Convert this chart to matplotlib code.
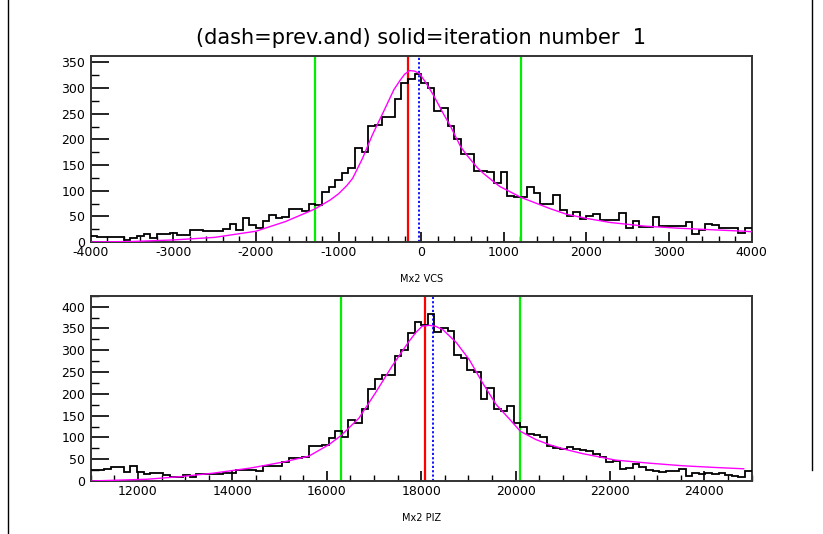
import numpy as np
import matplotlib
matplotlib.use("Agg")
import matplotlib.pyplot as plt
from matplotlib.lines import Line2D
from matplotlib.ticker import MultipleLocator

plt.rcParams['axes.unicode_minus'] = False
plt.rcParams['font.family'] = ['DejaVu Sans']

# ---- top histogram: Mx2 VCS, 100 bins from -4000 to 4000
vcs_lo, vcs_hi = -4000, 4000
vcs_counts = [12, 9, 10, 10, 10, 4, 7, 12, 16, 7,
              16, 16, 18, 13, 13, 23, 24, 22, 21, 22,
              26, 36, 24, 46, 34, 27, 41, 53, 46, 48,
              64, 64, 61, 75, 72, 97, 108, 121, 134, 144,
              183, 176, 226, 228, 244, 244, 278, 309, 317, 327,
              309, 300, 255, 262, 226, 200, 172, 172, 139, 139,
              136, 114, 136, 90, 88, 88, 108, 95, 75, 75,
              92, 62, 51, 59, 44, 51, 54, 42, 42, 43,
              57, 28, 41, 30, 30, 48, 32, 32, 32, 32,
              38, 15, 23, 36, 34, 28, 27, 27, 17, 28]
vcs_fit_x = [-4000, -3500, -3000, -2500, -2000, -1640, -1290, -1100, -1000, -900,
             -830, -710, -590, -450, -330, -260, -200, -140, -80, -20,
             50, 145, 275, 347, 476, 549, 678, 751, 880, 953,
             1207, 1560, 1760, 2000, 2290, 2700, 3100, 3500, 3910, 4000]
vcs_fit_y = [0, 1, 4, 9, 21, 40, 64, 82, 94, 110,
             124, 163, 209, 256, 297, 314, 327, 334, 333, 328,
             312, 287, 248, 228, 186, 170, 145, 134, 117, 108,
             87, 65, 54, 46, 38, 31, 27, 24, 21, 20]
vcs_green = [-1290, 1210]
vcs_red = -163
vcs_blue = -21

# ---- bottom histogram: Mx2 PIZ, 100 bins from 11000 to 25000
piz_lo, piz_hi = 11000, 25000
piz_counts = [26, 25, 28, 33, 33, 21, 34, 21, 16, 18,
              18, 14, 10, 10, 13, 9, 17, 15, 17, 16,
              18, 19, 25, 26, 25, 22, 34, 34, 34, 43,
              53, 53, 55, 80, 80, 83, 99, 114, 102, 139,
              133, 165, 211, 234, 244, 244, 287, 301, 339, 365,
              357, 383, 341, 352, 343, 290, 281, 255, 250, 188,
              213, 165, 161, 173, 133, 123, 108, 105, 101, 81,
              76, 74, 78, 74, 70, 69, 62, 54, 44, 46,
              27, 29, 39, 31, 25, 24, 20, 24, 22, 28,
              12, 18, 15, 19, 16, 18, 14, 11, 10, 22]
piz_fit_x = [11000, 12190, 12900, 13600, 14400, 15100, 15620, 16040, 16300, 16680,
             17030, 17380, 17740, 17890, 18020, 18170, 18300, 18460, 18740, 19020,
             19300, 19590, 19870, 20100, 20430, 20720, 21070, 21410, 22110, 22820,
             23530, 24230, 24830]
piz_fit_y = [0, 4, 10, 18, 30, 44, 57, 83, 104, 144,
             202, 263, 320, 341, 355, 357, 355, 347, 318, 278,
             225, 175, 142, 114, 95, 83, 72, 63, 48, 41,
             35, 31, 28]
piz_green = [16300, 20090]
piz_red = 18080
piz_blue = 18250

title_text = "(dash=prev.and) solid=iteration number  1"

W, H = 823, 534
fig = plt.figure(figsize=(W / 100, H / 100), dpi=100)


def panel(rect, lo, hi, counts, fx, fy, greens, red, blue, ymax, xmaj, xmin, label):
    ax = fig.add_axes(rect)
    edges = np.linspace(lo, hi, len(counts) + 1)
    ax.stairs(counts, edges, baseline=None, color='black', linewidth=1.3, zorder=3)
    ax.plot(fx, fy, color='#ff00ff', linewidth=1.0, zorder=4)
    for g in greens:
        ax.axvline(g, color='#00ee00', linewidth=1.6, zorder=2)
    ax.axvline(red, color='#ff0000', linewidth=1.6, zorder=2)
    ax.axvline(blue, color='#0000ff', linewidth=1.3, linestyle=(0, (1.2, 1.2)), zorder=2)
    ax.set_xlim(lo, hi)
    ax.set_ylim(0, ymax)
    ax.xaxis.set_major_locator(MultipleLocator(xmaj))
    ax.xaxis.set_minor_locator(MultipleLocator(xmin))
    ax.yaxis.set_major_locator(MultipleLocator(50))
    ax.yaxis.set_minor_locator(MultipleLocator(25))
    ax.tick_params(axis='x', which='major', direction='in', length=7, width=1.2,
                   labelsize=9, pad=3, top=False)
    ax.tick_params(axis='x', which='minor', direction='in', length=4, width=1.0, top=False)
    ax.tick_params(axis='y', which='major', direction='in', length=13, width=1.2,
                   labelsize=9, pad=4, right=False)
    ax.tick_params(axis='y', which='minor', direction='in', length=6, width=1.0, right=False)
    for s in ax.spines.values():
        s.set_linewidth(1.4)
        s.set_color('#333333')
    ax.set_xlabel(label, fontsize=7, labelpad=11)
    return ax


top = panel([90.7 / W, 1 - 242 / H, 661 / W, 186.3 / H],
            vcs_lo, vcs_hi, vcs_counts, vcs_fit_x, vcs_fit_y,
            vcs_green, vcs_red, vcs_blue, 363, 1000, 200, "Mx2 VCS")
bot = panel([90.7 / W, 1 - 481 / H, 661 / W, 185.3 / H],
            piz_lo, piz_hi, piz_counts, piz_fit_x, piz_fit_y,
            piz_green, piz_red, piz_blue, 425, 2000, 500, "Mx2 PIZ")

fig.text(0.512, 1 - 38 / H, title_text, ha='center', va='center', fontsize=15)

# page frame lines
fig.add_artist(Line2D([8 / W, 8 / W], [0, 1], color='black', linewidth=1.0))
fig.add_artist(Line2D([812 / W, 812 / W], [1 - 470 / H, 1], color='black', linewidth=1.0))

fig.savefig("out.png", dpi=100)
